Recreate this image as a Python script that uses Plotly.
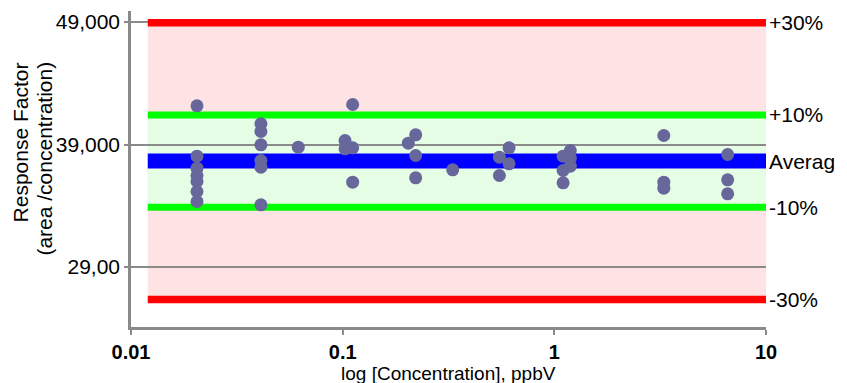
import plotly.graph_objects as go

# ---------------- data ----------------
concentration_ppbv = [
    0.0205, 0.0205, 0.0205, 0.0205, 0.0205, 0.0205, 0.0205,
    0.0411, 0.0411, 0.0411, 0.0411, 0.0411, 0.0411,
    0.0617,
    0.1026, 0.1026,
    0.1115, 0.1115, 0.1115,
    0.2042,
    0.2213, 0.2213, 0.2213,
    0.331,
    0.550, 0.550,
    0.611, 0.611,
    1.10, 1.10, 1.10,
    1.19, 1.19, 1.19,
    3.29, 3.29, 3.29,
    6.59, 6.59, 6.59,
]
response_factor = [
    42159, 38045, 37065, 36469, 35980, 35163, 34347,
    40690, 40061, 38976, 37694, 37147, 34078,
    38780,
    39327, 38649,
    42265, 38731, 35922,
    39106,
    39792, 38102, 36282,
    36935,
    37963, 36469,
    38731, 37425,
    38045, 36878, 35874,
    38510, 37882, 37229,
    39735, 35922, 35433,
    38184, 36118, 34976,
]

average_rf = 37650
band_x = [0.012, 10]
x_tick_vals = [0.01, 0.1, 1, 10]
x_tick_text = ["0.01", "0.1", "1", "10"]
y_tick_vals = [29000, 39000, 49000]
y_tick_text = ["29,00", "39,000", "49,000"]
band_labels = ["+30%", "+10%", "Averag", "-10%", "-30%"]
band_factors = [1.30, 1.10, 1.00, 0.90, 0.70]
band_colors = ["#ff0000", "#00ff00", "#0000ff", "#00ff00", "#ff0000"]
band_widths = [7.5, 7, 15, 7, 7.5]

FONT = "Liberation Sans, Arial, sans-serif"
GRAY = "#8a8a8a"

fig = go.Figure()

# band fills (below grid)
up30, lo30 = average_rf * 1.30, average_rf * 0.70
up10, lo10 = average_rf * 1.10, average_rf * 0.90
fig.add_shape(type="rect", xref="x", yref="y", x0=band_x[0], x1=band_x[1],
              y0=lo30, y1=up30, fillcolor="#fde3e3", line_width=0, layer="below")
fig.add_shape(type="rect", xref="x", yref="y", x0=band_x[0], x1=band_x[1],
              y0=lo10, y1=up10, fillcolor="#e5fce5", line_width=0, layer="below")

# band lines
for f, c, w in zip(band_factors, band_colors, band_widths):
    fig.add_trace(go.Scatter(x=band_x, y=[average_rf * f] * 2, mode="lines",
                             line=dict(color=c, width=w), hoverinfo="skip",
                             showlegend=False))

# data points
fig.add_trace(go.Scatter(x=concentration_ppbv, y=response_factor, mode="markers",
                         marker=dict(color="#67679b", size=13, line=dict(width=0)),
                         showlegend=False))

# right-side labels
for lab, f in zip(band_labels, band_factors):
    fig.add_annotation(x=1, xref="paper", xanchor="left", xshift=1,
                       y=average_rf * f, yref="y", yanchor="middle",
                       text=lab, showarrow=False,
                       font=dict(family=FONT, size=21, color="black"))

# y title (two lines)
fig.add_annotation(x=0, xref="paper", xshift=-111, y=0.584, yref="paper",
                   text="Response Factor", textangle=-90, showarrow=False,
                   xanchor="center", yanchor="middle",
                   font=dict(family=FONT, size=21, color="black"))
fig.add_annotation(x=0, xref="paper", xshift=-86, y=0.533, yref="paper",
                   text="(area /concentration)", textangle=-90, showarrow=False,
                   xanchor="center", yanchor="middle",
                   font=dict(family=FONT, size=21, color="black"))

# x title
fig.add_annotation(x=0.5, xref="paper", y=0, yref="paper", yshift=-46,
                   text="log [Concentration], ppbV", showarrow=False,
                   xanchor="center", yanchor="middle",
                   font=dict(family=FONT, size=19, color="black"))

# page body has an 8px margin, so the figure is 8px smaller and shifted
fig.update_layout(
    width=839, height=375,
    margin=dict(l=123, r=81, t=3, b=56),
    paper_bgcolor="white", plot_bgcolor="white",
    showlegend=False,
    font=dict(family=FONT, color="black"),
)
fig.update_xaxes(
    type="log", range=[-2, 1],
    tickvals=x_tick_vals, ticktext=["<b>%s</b>" % t for t in x_tick_text],
    tickfont=dict(family=FONT, size=20, color="black"),
    showgrid=False, zeroline=False,
    showline=True, linecolor=GRAY, linewidth=2.5,
    ticks="outside", ticklen=5, tickwidth=2, tickcolor=GRAY,
    ticklabelstandoff=0,
    automargin=False,
)
fig.update_yaxes(
    range=[24102, 49898],
    tickvals=y_tick_vals, ticktext=y_tick_text,
    tickfont=dict(family=FONT, size=21, color="black"),
    showgrid=True, gridcolor=GRAY, gridwidth=2,
    zeroline=False,
    showline=True, linecolor=GRAY, linewidth=2.5,
    ticks="outside", ticklen=4, tickwidth=2, tickcolor=GRAY,
    automargin=False,
)

fig.write_html("out.html")
